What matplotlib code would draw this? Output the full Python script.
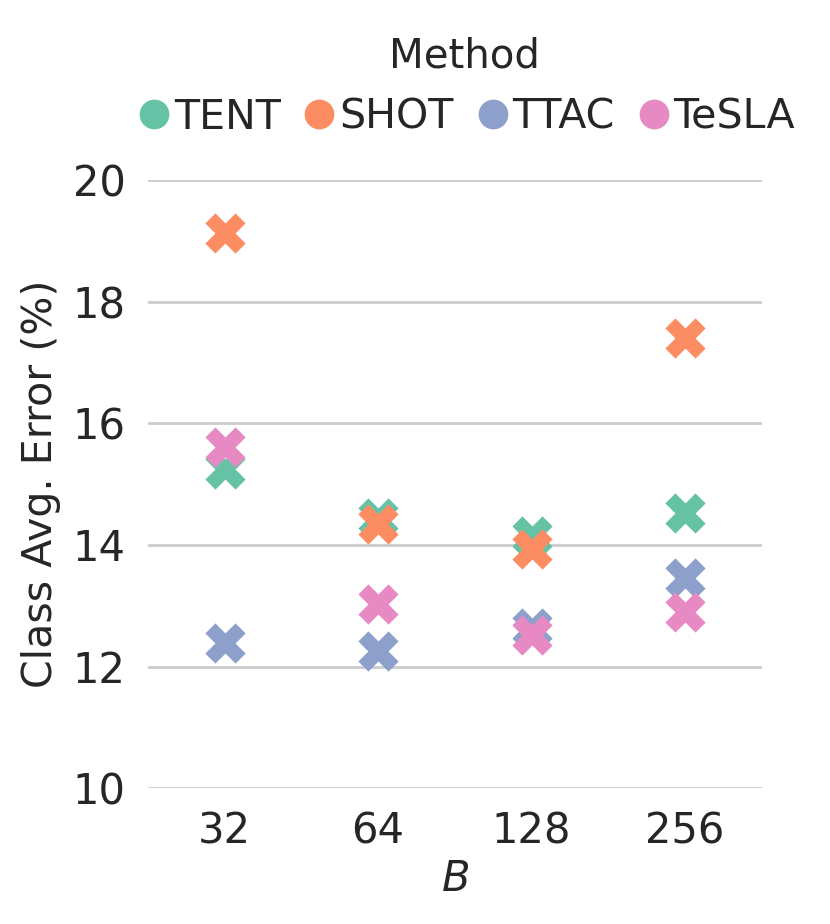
import numpy as np
import matplotlib.pyplot as plt
import seaborn as sns

batch_sizes = ["32", "64", "128", "256"]
methods = ["TENT", "SHOT", "TTAC", "TeSLA"]
tent = [15.25, 14.45, 14.14, 14.52]
shot = [19.13, 14.34, 13.93, 17.40]
ttac = [12.39, 12.26, 12.64, 13.45]
tesla = [15.61, 13.03, 12.52, 12.89]
errors = [tent, shot, ttac, tesla]

sns.set_theme(style="whitegrid")
plt.rcParams['font.family'] = ['DejaVu Sans']
colors = sns.color_palette("Set2", 4)

fig = plt.figure(figsize=(4.15, 4.62), dpi=200)
ax = fig.add_axes([0.178, 0.147, 0.740, 0.658])

x = np.arange(len(batch_sizes))
for name, vals, c in zip(methods, errors, colors):
    ax.scatter(x, vals, s=210, marker="X", color=c, linewidths=0, label=name, zorder=3)

ax.set_xlim(-0.5, 3.5)
ax.set_ylim(10, 20)
ax.set_yticks([10, 12, 14, 16, 18, 20])
ax.set_xticks(x)
ax.set_xticklabels(batch_sizes)
ax.tick_params(labelsize=15, colors="#262626", length=0, pad=8)
ax.grid(axis="x", visible=False)
ax.grid(axis="y", color="#cccccc", linewidth=1.0)
for sp in ax.spines.values():
    sp.set_visible(False)
ax.set_ylabel("Class Avg. Error (%)", fontsize=14.8, color="#262626")
ax.set_xlabel("$B$", fontsize=15, color="#262626", labelpad=2)

# legend on top, circles instead of X
handles = [plt.Line2D([], [], marker="o", linestyle="", markersize=9.7, color=c) for c in colors]
leg = fig.legend(handles, methods, loc="upper center", bbox_to_anchor=(0.5596, 1.0),
                 ncol=4, frameon=False, fontsize=14.8, title="Method", title_fontsize=14.5,
                 handletextpad=0.0, columnspacing=0.46, handlelength=0.97)
plt.setp(leg.get_texts(), color="#262626")
leg.get_title().set_color("#262626")

fig.savefig("out.png", dpi=200)
